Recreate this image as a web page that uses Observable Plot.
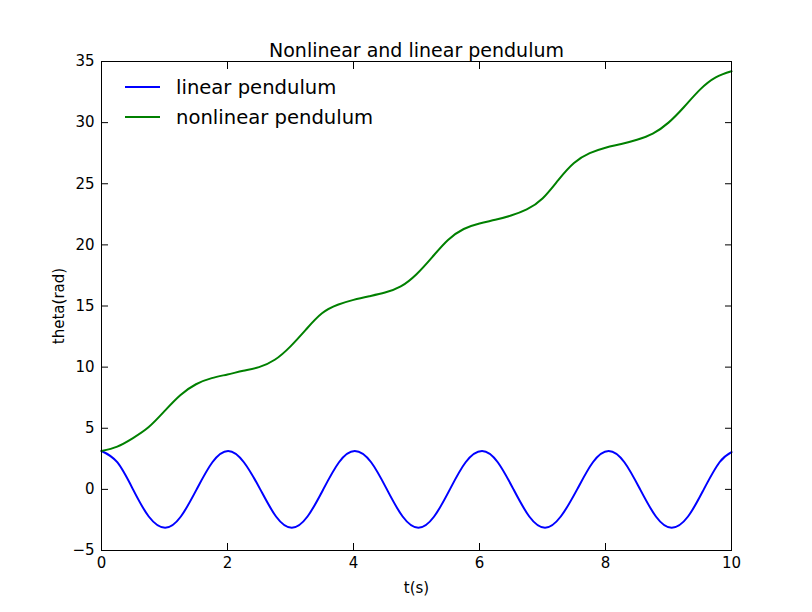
<!DOCTYPE html>
<html>
<head>
<meta charset="utf-8">
<script src="https://cdn.jsdelivr.net/npm/d3@7"></script>
<script src="https://cdn.jsdelivr.net/npm/@observablehq/plot@0.6"></script>
<style>
  body { margin: 0; background: #fff; }
  #chart { position: relative; width: 812px; height: 612px; font-family: "DejaVu Sans", sans-serif; }
  #legend { position: absolute; left: 0; top: 0; pointer-events: none; }
</style>
</head>
<body>
<div id="chart"></div>
<script>
// linear pendulum, values
const tLin = [0, 0.25, 0.50, 0.75, 1.01, 1.26, 1.51, 1.76, 2.01, 2.26, 2.52, 2.77, 3.02, 3.27,
  3.52, 3.77, 4.02, 4.28, 4.53, 4.78, 5.03, 5.28, 5.53, 5.78, 6.04, 6.29, 6.54, 6.79, 7.04,
  7.29, 7.55, 7.80, 8.05, 8.30, 8.55, 8.80, 9.05, 9.31, 9.56, 9.81, 10.0];
const thLin = [3.14, 2.22, 0, -2.22, -3.14, -2.22, 0, 2.22, 3.14, 2.22, 0, -2.22, -3.14, -2.22,
  0, 2.22, 3.14, 2.22, 0, -2.22, -3.14, -2.22, 0, 2.22, 3.14, 2.22, 0, -2.22, -3.14,
  -2.22, 0, 2.22, 3.14, 2.22, 0, -2.22, -3.14, -2.22, 0, 2.22, 3.05];

// nonlinear pendulum
const tNon = [0, 0.25, 0.5, 0.75, 1, 1.25, 1.5, 1.75, 2, 2.25, 2.5, 2.75, 3, 3.25, 3.5, 3.75,
  4, 4.25, 4.5, 4.75, 5, 5.25, 5.5, 5.75, 6, 6.25, 6.5, 6.75, 7, 7.25, 7.5, 7.75,
  8, 8.25, 8.5, 8.75, 9, 9.25, 9.5, 9.75, 10];
const thNon = [3.14, 3.5, 4.2, 5.1, 6.4, 7.7, 8.6, 9.1, 9.4, 9.7, 10.0, 10.6, 11.7, 13.1, 14.4, 15.1,
  15.5, 15.8, 16.1, 16.6, 17.6, 19.0, 20.4, 21.3, 21.75, 22.05, 22.4, 22.9, 23.8, 25.3, 26.7, 27.5,
  27.95, 28.25, 28.6, 29.1, 30.0, 31.3, 32.7, 33.7, 34.2];

const linData = tLin.map((t, i) => ({t, theta: thLin[i]}));
const nonData = tNon.map((t, i) => ({t, theta: thNon[i]}));
const xTicks = [0, 2, 4, 6, 8, 10];
const yTicks = [-5, 0, 5, 10, 15, 20, 25, 30, 35];

const font = {fontSize: 15, fill: "#000"};
const chart = Plot.plot({
  width: 812, height: 612,
  marginLeft: 101, marginRight: 81, marginTop: 61, marginBottom: 62,
  style: {fontFamily: "DejaVu Sans, sans-serif", fontSize: "15px", color: "#000"},
  x: {domain: [0, 10]},
  y: {domain: [-5, 35]},
  marks: [
    Plot.line(linData, {x: "t", y: "theta", stroke: "#0000ff", strokeWidth: 2, curve: "natural"}),
    Plot.line(nonData, {x: "t", y: "theta", stroke: "#008000", strokeWidth: 2, curve: "natural"}),
    Plot.frame({stroke: "#000", strokeWidth: 1}),
    Plot.axisX({ticks: xTicks, tickSize: -7, tickPadding: 14, ...font, label: "t(s)", labelAnchor: "center", labelArrow: "none", labelOffset: 42}),
    Plot.axisX({ticks: xTicks, anchor: "top", tickSize: -7, tickFormat: () => "", label: null}),
    Plot.axisY({ticks: yTicks, tickSize: -7, tickPadding: 14, ...font, label: "theta(rad)", labelAnchor: "center", labelArrow: "none", labelOffset: 48}),
    Plot.axisY({ticks: yTicks, anchor: "right", tickSize: -7, tickFormat: () => "", label: null}),
    Plot.text(["Nonlinear and linear pendulum"], {frameAnchor: "top", lineAnchor: "bottom", dy: -5, fontSize: 19, fill: "#000"})
  ]
});
const host = document.getElementById("chart");
host.appendChild(chart);

// legend (no frame, top-left inside axes)
const legendItems = [
  {label: "linear pendulum", color: "#0000ff"},
  {label: "nonlinear pendulum", color: "#008000"}
];
const svg = d3.select(host).append("svg").attr("id", "legend").attr("width", 812).attr("height", 612);
legendItems.forEach((d, i) => {
  const y = 87 + i * 30;
  svg.append("line").attr("x1", 125).attr("x2", 160).attr("y1", y).attr("y2", y)
    .attr("stroke", d.color).attr("stroke-width", 2);
  svg.append("text").attr("x", 176).attr("y", y + 7).attr("font-size", 19.6)
    .attr("font-family", "DejaVu Sans, sans-serif").text(d.label);
});
</script>
</body>
</html>
